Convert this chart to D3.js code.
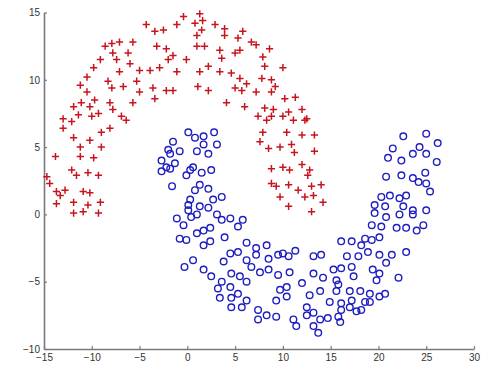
<!DOCTYPE html>
<html>
<head>
<meta charset="utf-8">
<script src="https://cdn.jsdelivr.net/npm/d3@7"></script>
<style>
  html, body { margin: 0; padding: 0; background: #fff; }
  #chart text { font-family: "Liberation Sans", Arial, sans-serif; }
</style>
</head>
<body>
<div id="chart"></div>
<script>
// Two moons scatter (red "+" upper moon, blue "o" lower moon)

// axis ticks
const xTicks = [-15, -10, -5, 0, 5, 10, 15, 20, 25, 30];
const yTicks = [-10, -5, 0, 5, 10, 15];

// red "+" class, [x, y]
const redPts = [
  [-4.3,14.1],[-3.4,13.6],[-2.5,13.7],[-1.1,14.1],[-0.4,14.7],[0.8,14.2],[1.0,13.3],
  [-7.9,12.7],[-7.1,12.8],[-5.7,12.8],[-6.2,12.0],[-7.8,12.0],[-8.6,12.5],[-9.1,11.5],
  [-7.4,11.5],[-6.0,11.2],[-3.2,12.5],[-2.2,12.3],[-1.5,11.8],[-2.0,11.5],[-0.1,11.5],
  [1.0,12.5],[-9.8,10.9],[-10.5,10.2],[-7.1,10.6],[-5.0,10.7],[-3.9,10.7],[-2.9,10.9],
  [-1.1,10.6],[-8.3,9.9],[-7.9,9.4],[-6.7,9.5],[-5.3,9.9],[-5.0,9.1],[-3.6,9.4],
  [-2.2,9.2],[-1.5,9.2],[-3.4,8.6],[-11.2,9.6],[-10.5,9.1],[-9.7,8.5],[-11.1,8.3],
  [-11.9,8.0],[-10.2,8.0],[-8.1,8.3],[-7.8,7.8],[-5.7,8.3],[-6.9,7.3],[-6.4,7.0],
  [-13.0,7.1],[-12.1,6.9],[-11.4,7.4],[-10.0,7.3],[-9.3,7.5],
  [1.3,14.9],[1.6,14.4],[1.5,13.7],[2.9,14.1],[3.9,13.8],[3.9,13.3],[5.3,13.1],
  [5.8,13.6],[6.7,12.8],[7.2,12.6],[8.6,12.3],[1.8,12.5],[3.4,12.2],[3.6,11.6],
  [5.0,12.0],[5.5,12.2],[7.9,11.7],[8.1,11.0],[10.0,10.9],[1.3,10.6],[2.2,11.0],
  [3.4,10.6],[4.6,10.5],[5.5,10.1],[6.2,9.7],[7.8,10.1],[8.8,10.0],[9.2,9.5],
  [1.1,9.5],[2.2,9.2],[5.0,9.4],[5.7,9.2],[7.2,9.1],[8.8,9.1],[10.2,8.6],[11.3,8.7],
  [4.1,8.3],[6.0,8.0],[8.1,7.9],[9.0,7.8],[10.6,7.6],[12.0,7.8],[12.3,7.0],
  [7.4,7.3],[8.3,7.0],[10.0,7.3],[11.1,7.0],
  [-13.0,6.4],[-11.9,5.7],[-10.2,5.5],[-9.0,6.1],[-8.1,6.4],[-11.2,5.0],[-9.0,5.0],
  [-13.8,4.3],[-11.2,4.3],[-9.8,4.2],[-12.1,3.3],[-11.6,2.9],[-10.4,3.1],[-9.3,2.9],
  [-14.7,2.8],[-14.4,2.3],[-13.7,1.7],[-12.8,1.8],[-10.9,1.7],[-10.2,1.6],[-9.1,0.9],
  [-13.7,0.8],[-11.9,0.9],[-10.4,0.7],[-11.9,0.1],[-10.9,0.2],[-9.3,0.1],[-13.3,1.4],
  [8.8,7.3],[12.5,7.1],[7.9,6.1],[10.4,6.1],[12.0,5.9],[13.3,5.9],[7.6,5.4],
  [8.5,4.9],[9.7,5.0],[10.9,5.2],[11.2,4.6],[13.3,4.7],[8.8,3.4],[10.0,3.5],
  [10.7,3.3],[12.0,3.7],[12.8,3.3],[12.6,2.9],[8.8,2.3],[9.3,2.1],[10.6,2.2],
  [11.6,1.8],[13.0,2.1],[14.0,2.2],[9.7,1.3],[12.3,1.3],[13.2,1.4],[14.2,0.9],
  [10.6,0.6],[13.0,0.2]
];

// blue "o" class
const bluePts = [
  [0.1,6.1],[-1.5,5.4],[-2.0,4.8],[-0.8,4.7],[1.0,4.7],[-2.7,4.0],[-1.8,3.4],
  [-0.1,2.9],[0.6,3.5],[-1.6,2.1],[0.8,1.8],[0.1,0.7],[1.0,0.0],[-1.1,-0.3],
  [-0.4,-0.8],[1.0,-1.4],[-0.1,-1.9],[0.8,5.7],[1.7,5.8],[2.8,6.1],[3.1,5.2],
  [1.7,5.2],[-1.8,4.5],[-2.2,3.5],[-2.7,3.2],[-1.3,3.8],[2.2,4.5],[0.3,3.3],
  [1.5,3.1],[2.5,3.3],[1.3,2.2],[2.2,1.9],[0.3,1.1],[2.7,1.1],[3.6,1.3],[1.3,0.6],
  [0.1,0.3],[2.2,0.5],[3.1,0.0],[0.4,-0.2],[3.6,-0.4],[4.5,-0.3],[5.3,-0.9],
  [1.7,-1.2],[2.4,-1.0],[5.8,-0.4],[-0.8,-1.8],[2.4,-2.0],[1.7,-2.3],[3.9,-1.7],
  [0.6,-3.4],[1.7,-4.1],[3.8,-3.5],[4.5,-2.9],[5.3,-2.8],[6.2,-2.1],[7.2,-2.5],
  [8.3,-2.3],[6.2,-3.4],[7.2,-3.0],[8.5,-3.3],[9.5,-3.0],[10.6,-3.1],[2.5,-4.6],
  [3.6,-5.0],[4.6,-4.4],[5.5,-4.6],[6.2,-5.0],[7.6,-4.3],[8.5,-4.1],[6.7,-3.9],
  [9.5,-4.5],[10.7,-4.3],[12.0,-5.1],[3.2,-5.5],[4.5,-5.4],[3.4,-6.2],[4.6,-6.2],
  [5.3,-5.9],[6.2,-6.4],[4.6,-6.9],[5.7,-6.9],[9.7,-5.6],[10.4,-6.1],[9.3,-6.4],
  [7.4,-7.1],[8.3,-7.5],[7.4,-7.8],[9.3,-7.6],[11.1,-7.8],[11.4,-8.3],[12.5,-6.9],
  [12.5,-7.5],[-0.3,-3.9],[19.3,-0.8],[16.1,-2.0],[17.2,-2.0],[18.2,-2.3],
  [19.3,-1.9],[10.0,-2.9],[11.3,-2.7],[13.2,-3.1],[14.0,-3.0],[16.7,-3.1],
  [17.9,-3.1],[18.9,-2.8],[13.2,-4.4],[15.3,-4.1],[16.1,-4.0],[17.2,-3.9],
  [10.4,-5.4],[14.2,-4.7],[15.8,-5.2],[17.0,-5.7],[18.1,-5.7],[12.8,-6.0],
  [13.9,-5.7],[14.9,-6.5],[16.1,-6.6],[17.0,-6.9],[18.2,-7.1],[19.1,-6.5],
  [13.2,-7.3],[13.9,-7.8],[14.7,-7.7],[15.8,-7.6],[13.2,-8.3],[13.7,-8.8],
  [19.4,-4.1],[15.6,-4.9],[17.4,-4.6],[15.6,-5.7],[16.1,-7.1],[16.0,-8.0],
  [17.2,-6.4],[17.7,-7.2],[18.6,-6.5],[19.1,-5.9],[20.1,-6.1],[20.7,-5.9],
  [19.8,-4.9],[20.1,-4.4],[20.8,-3.6],[21.4,-3.0],[22.1,-4.7],[20.1,-3.0],
  [22.9,-2.8],[25.0,6.0],[22.6,5.8],[26.2,5.3],[24.3,5.0],[21.5,4.9],[23.6,4.5],
  [25.0,4.5],[21.0,4.2],[22.4,4.0],[26.1,3.9],[20.8,2.8],[22.4,2.9],[23.6,2.7],
  [24.9,3.1],[24.2,2.4],[25.0,2.3],[25.4,1.7],[20.3,1.3],[21.2,1.4],[22.2,1.2],
  [22.9,1.4],[19.6,0.7],[20.7,0.6],[22.6,0.6],[23.6,0.3],[25.0,0.3],[19.6,0.1],
  [20.8,-0.2],[22.2,0.0],[23.6,0.0],[20.3,-0.9],[21.9,-1.0],[22.9,-1.0],
  [24.0,-1.2],[24.7,-0.8],[18.6,-1.8],[20.1,-1.7]
];

const W = 494, H = 371;
const margin = { top: 12.5, right: 20, bottom: 22, left: 44 };

const svg = d3.select("#chart")
  .append("svg")
  .attr("width", W)
  .attr("height", H)
  .style("display", "block");

const x = d3.scaleLinear()
  .domain([-15, 30])
  .range([margin.left, W - margin.right]);

const y = d3.scaleLinear()
  .domain([-10, 15])
  .range([H - margin.bottom, margin.top]);

////////////////////////////////
// Axes (left + bottom only, ticks pointing in)
const axisColor = "#7a7a7a";

const gx = svg.append("g")
  .attr("transform", "translate(0," + (H - margin.bottom) + ")")
  .call(d3.axisBottom(x).tickValues(xTicks).tickSizeInner(-3).tickSizeOuter(0).tickPadding(5));

const gy = svg.append("g")
  .attr("transform", "translate(" + margin.left + ",0)")
  .call(d3.axisLeft(y).tickValues(yTicks).tickSizeInner(-3).tickSizeOuter(0).tickPadding(4));

[gx, gy].forEach(function (g) {
  g.select(".domain").attr("stroke", axisColor).attr("stroke-width", 1.6);
  g.selectAll(".tick line").attr("stroke", axisColor).attr("stroke-width", 1.2);
  g.selectAll(".tick text")
    .attr("fill", "#333")
    .style("font-size", "10px");
});

////////////////////////////////
// Points
const plus = "M-3.6,0H3.6M0,-3.6V3.6";

svg.append("g")
  .selectAll("path")
  .data(redPts)
  .enter()
  .append("path")
  .attr("d", plus)
  .attr("transform", function (d) {
    return "translate(" + x(d[0]) + "," + y(d[1]) + ")";
  })
  .attr("stroke", "#c8141e")
  .attr("stroke-width", 1.5)
  .attr("fill", "none");

svg.append("g")
  .selectAll("circle")
  .data(bluePts)
  .enter()
  .append("circle")
  .attr("cx", function (d) { return x(d[0]); })
  .attr("cy", function (d) { return y(d[1]); })
  .attr("r", 3.3)
  .attr("stroke", "#1e1ec0")
  .attr("stroke-width", 1.4)
  .attr("fill", "none");
</script>
</body>
</html>
